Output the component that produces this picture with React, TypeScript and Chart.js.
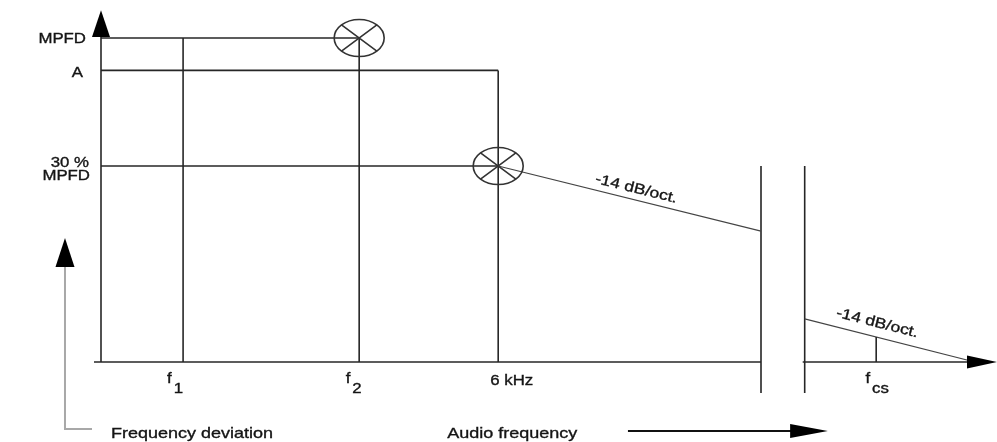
import { useEffect, useRef } from "react";
import { Chart, registerables } from "chart.js";

Chart.register(...registerables);

// ---- data (x: audio frequency, 6 kHz = 6; y: frequency deviation level, MPFD = 100) ----
const freqMarks = [1.24, 3.9, 6.0, 11.71];
const freqMarkTops = [100, 100, 90, 7.7];
const freqLabels = ["f", "f", "6 kHz", "f"];
const freqSubs = ["1", "2", "", "cs"];
const freqLabelShift = [-8, -5.5, 13.5, 1];

const levelValues = [100, 90, 60.5];
const levelEnds = [3.9, 6.0, 6.0];
const levelLabels = [["MPFD"], ["A"], ["30 %", "MPFD"]];

const responseX = [6.0, 9.97];
const responseY = [60.5, 40.4];
const stopbandX = [10.63, 13.2];
const stopbandY = [13.3, 0];
const breakX = [9.97, 10.63];
const breakRange = [-9.6, 60.5];
const markerX = [3.9, 6.0];
const markerY = [100, 60.5];
const slopeLabel = "-14 dB/oct.";
const slopeLabelX = [8.07, 11.71];
const slopeLabelY = [52.2, 10.8];

const axisXStart = -0.106;
const axisXEnd = 13.535;
const axisYTop = 108.6;
const axisYArrowBase = 100.3;
const legendArrowX = -0.544;
const legendElbowX = -0.136;
const legendArrowY = [-20.7, 29.3, 38.3];
const bottomArrowX = [7.96, 10.41, 10.98];
const bottomArrowY = -21.3;
const bottomLabels = ["Frequency deviation", "Audio frequency"];
const bottomLabelX = [0.15, 5.23];
const bottomLabelY = -23.5;

const X_MIN = -1.5257;
const X_MAX = 13.535;
const Y_MIN = -24.69;
const Y_MAX = 111.73;

const FONT = '"Liberation Sans", Arial, sans-serif';
const INK = "#262626";
const TEXT = "#151515";
const SX = 1.2;

type P = { x: number; y: number };

function seg(data: P[], color = INK, width = 1.6) {
  return {
    type: "line" as const,
    data,
    borderColor: color,
    borderWidth: width,
    pointRadius: 0,
    showLine: true,
    fill: false,
    tension: 0,
    clip: false as any,
  };
}

function drawText(
  ctx: CanvasRenderingContext2D,
  s: string,
  x: number,
  y: number,
  align: CanvasTextAlign,
  size: number,
  angle = 0
) {
  ctx.save();
  ctx.translate(x, y);
  ctx.rotate(angle);
  ctx.scale(SX, 1);
  ctx.font = `${size}px ${FONT}`;
  ctx.fillStyle = TEXT;
  ctx.strokeStyle = TEXT;
  ctx.lineWidth = 0.35;
  ctx.textAlign = align;
  ctx.textBaseline = "alphabetic";
  ctx.fillText(s, 0, 0);
  ctx.strokeText(s, 0, 0);
  ctx.restore();
}

function tri(
  ctx: CanvasRenderingContext2D,
  tip: [number, number],
  base: [number, number],
  half: number,
  color: string
) {
  const dx = tip[0] - base[0];
  const dy = tip[1] - base[1];
  const L = Math.hypot(dx, dy) || 1;
  const nx = -dy / L;
  const ny = dx / L;
  ctx.save();
  ctx.fillStyle = color;
  ctx.beginPath();
  ctx.moveTo(tip[0], tip[1]);
  ctx.lineTo(base[0] + nx * half, base[1] + ny * half);
  ctx.lineTo(base[0] - nx * half, base[1] - ny * half);
  ctx.closePath();
  ctx.fill();
  ctx.restore();
}

const diagramPlugin = {
  id: "diagram",
  afterDatasetsDraw(chart: any) {
    const ctx: CanvasRenderingContext2D = chart.ctx;
    const xs = chart.scales.x;
    const ys = chart.scales.y;
    const px = (v: number) => xs.getPixelForValue(v);
    const py = (v: number) => ys.getPixelForValue(v);

    // ellipse markers with crosses
    markerX.forEach((mx, i) => {
      const cx = px(mx);
      const cy = py(markerY[i]);
      const rx = 25;
      const ry = 18.5;
      ctx.save();
      ctx.strokeStyle = "#333";
      ctx.lineWidth = 1.6;
      ctx.beginPath();
      ctx.ellipse(cx, cy, rx, ry, 0, 0, Math.PI * 2);
      ctx.stroke();
      const c = Math.SQRT1_2;
      ctx.beginPath();
      ctx.moveTo(cx - rx * c, cy - ry * c);
      ctx.lineTo(cx + rx * c, cy + ry * c);
      ctx.moveTo(cx + rx * c, cy - ry * c);
      ctx.lineTo(cx - rx * c, cy + ry * c);
      ctx.stroke();
      ctx.restore();
    });

    // arrowheads
    tri(ctx, [px(0), py(axisYTop)], [px(0), py(axisYArrowBase)], 9, "#000");
    tri(ctx, [px(axisXEnd), py(0)], [px(axisXEnd) - 30, py(0)], 6.5, "#000");
    tri(
      ctx,
      [px(legendArrowX), py(legendArrowY[2])],
      [px(legendArrowX), py(legendArrowY[1])],
      9.5,
      "#000"
    );
    tri(
      ctx,
      [px(bottomArrowX[2]), py(bottomArrowY)],
      [px(bottomArrowX[1]), py(bottomArrowY)],
      7,
      "#000"
    );

    // level labels
    const lx = px(0);
    drawText(ctx, levelLabels[0][0], lx - 15, py(levelValues[0]) + 5, "right", 14);
    drawText(ctx, levelLabels[1][0], lx - 18, py(levelValues[1]) + 7, "right", 14);
    drawText(ctx, levelLabels[2][0], lx - 12, py(levelValues[2]) + 1, "right", 14);
    drawText(ctx, levelLabels[2][1], lx - 11, py(levelValues[2]) + 14, "right", 14);

    // frequency labels
    const base = py(0);
    freqMarks.forEach((f, i) => {
      const cx = px(f) + freqLabelShift[i];
      const size = 14;
      ctx.save();
      ctx.font = `${size}px ${FONT}`;
      const mw = ctx.measureText(freqLabels[i]).width * SX;
      const sw = freqSubs[i] ? ctx.measureText(freqSubs[i]).width * SX : 0;
      ctx.restore();
      const gap = freqSubs[i] ? 2 : 0;
      const total = mw + gap + sw;
      const left = cx - total / 2;
      const isMain = !freqSubs[i];
      drawText(ctx, freqLabels[i], left, base + (isMain ? 23 : 21), "left", size);
      if (freqSubs[i]) {
        drawText(ctx, freqSubs[i], left + mw + gap, base + 31, "left", size);
      }
    });

    // slope labels
    const ang1 = Math.atan2(py(responseY[1]) - py(responseY[0]), px(responseX[1]) - px(responseX[0]));
    const ang2 = Math.atan2(py(stopbandY[1]) - py(stopbandY[0]), px(stopbandX[1]) - px(stopbandX[0]));
    drawText(ctx, slopeLabel, px(slopeLabelX[0]), py(slopeLabelY[0]), "center", 14.5, ang1);
    drawText(ctx, slopeLabel, px(slopeLabelX[1]), py(slopeLabelY[1]), "center", 14.5, ang2);

    // bottom labels
    bottomLabels.forEach((s, i) => {
      drawText(ctx, s, px(bottomLabelX[i]), py(bottomLabelY), "left", 15);
    });
  },
};

export default function App() {
  const ref = useRef<HTMLCanvasElement | null>(null);

  useEffect(() => {
    if (!ref.current) return;
    const datasets: any[] = [
      // axes
      seg([{ x: 0, y: 0 }, { x: 0, y: axisYArrowBase }]),
      seg([{ x: axisXStart, y: 0 }, { x: breakX[0], y: 0 }]),
      seg([{ x: breakX[1] - 0.03, y: 0 }, { x: axisXEnd - 0.2, y: 0 }]),
      // frequency marks
      ...freqMarks.map((f, i) => seg([{ x: f, y: 0 }, { x: f, y: freqMarkTops[i] }])),
      // level lines
      ...levelValues.map((v, i) => seg([{ x: 0, y: v }, { x: levelEnds[i], y: v }])),
      // response slopes
      seg(responseX.map((x, i) => ({ x, y: responseY[i] })), "#444", 1.2),
      seg(stopbandX.map((x, i) => ({ x, y: stopbandY[i] })), "#444", 1.2),
      // axis break
      ...breakX.map((b) => seg([{ x: b, y: breakRange[1] }, { x: b, y: breakRange[0] }])),
      // legend arrows
      seg(
        [
          { x: legendElbowX, y: legendArrowY[0] },
          { x: legendArrowX, y: legendArrowY[0] },
          { x: legendArrowX, y: legendArrowY[1] + 1 },
        ],
        "#a8a8a8",
        2
      ),
      seg([{ x: bottomArrowX[0], y: bottomArrowY }, { x: bottomArrowX[1] + 0.05, y: bottomArrowY }], "#111", 1.8),
      // marker points (drawn by plugin)
      {
        type: "scatter",
        data: markerX.map((x, i) => ({ x, y: markerY[i] })),
        pointRadius: 0,
        showLine: false,
      },
    ];

    const chart = new Chart(ref.current, {
      type: "scatter",
      data: { datasets },
      options: {
        animation: false,
        responsive: true,
        maintainAspectRatio: false,
        layout: { padding: 0 },
        plugins: {
          legend: { display: false },
          tooltip: { enabled: false },
        },
        events: [],
        scales: {
          x: { type: "linear", display: false, min: X_MIN, max: X_MAX },
          y: { type: "linear", display: false, min: Y_MIN, max: Y_MAX },
        },
      },
      plugins: [diagramPlugin],
    } as any);
    return () => chart.destroy();
  }, []);

  return (
    <div
      style={{
        position: "fixed",
        left: 0,
        top: 0,
        width: 997,
        height: 442,
        background: "#fff",
      }}
    >
      <canvas ref={ref} />
    </div>
  );
}
